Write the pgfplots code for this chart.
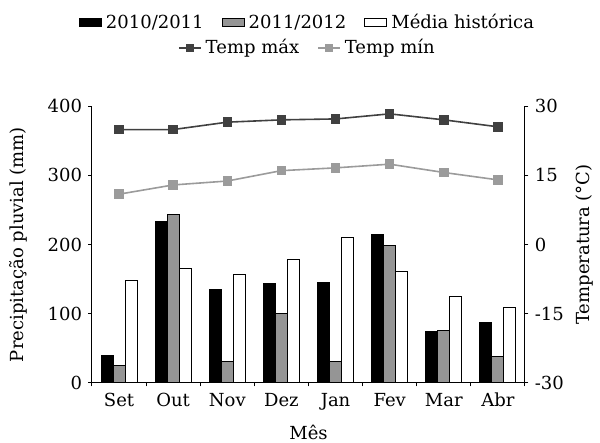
\documentclass[border=0pt]{standalone}
\usepackage{pgfplots}
\pgfplotsset{compat=1.18}
\usepackage{fontspec}
\setmainfont{DejaVu Serif}
\definecolor{bargray}{HTML}{959595}
\definecolor{tmax}{HTML}{404040}
\definecolor{tmin}{HTML}{9B9B9B}
\pgfplotsset{
  barlegend/.style={legend image code/.code={\draw[##1] (0pt,-2pt) rectangle (11pt,2pt);}},
  linelegend/.style={legend image code/.code={\draw[##1, mark size=1.5pt, mark repeat=2, mark phase=2] plot coordinates {(0pt,0pt)(5.5pt,0pt)(11pt,0pt)};}},
}
\begin{document}
\fontsize{9}{11}\selectfont
\begin{tikzpicture}
\begin{axis}[
  at={(0,0)}, anchor=south west,
  scale only axis, width=216.5pt, height=138.5pt,
  xmin=-0.5, xmax=7.5, ymin=0, ymax=400,
  axis x line*=bottom, axis y line*=left,
  axis line style={line width=0.5pt, black},
  tick align=outside, major tick length=1.75pt,
  tick style={black, line width=0.5pt},
  xtick={-0.5,0.5,...,7.5}, xticklabels={},
  extra x ticks={0,1,2,3,4,5,6,7},
  extra x tick labels={Set,Out,Nov,Dez,Jan,Fev,Mar,Abr},
  extra x tick style={tick style={draw=none}},
  ytick={0,100,200,300,400}, yticklabels={0,100,200,300,400},
  ybar=0pt, bar width=6pt,
  xlabel={Mês},
  xlabel style={at={(axis description cs:0.5,-0.18)}, anchor=center},
  ylabel={Precipitação pluvial (mm)},
  ylabel style={at={(axis description cs:-0.171,0.5)}, anchor=center},
  legend style={at={(axis description cs:0.5,1.300)}, anchor=center, draw=none, fill=none,
    legend columns=3, /tikz/every even column/.append style={column sep=7pt},
    inner sep=0pt},
  legend cell align=left,
]
\addplot[fill=black, draw=black, line width=0.5pt, barlegend]
  coordinates {(0,40)(1,233)(2,135)(3,143)(4,145)(5,215)(6,74)(7,87)};
\addlegendentry{2010/2011}
\addplot[fill=bargray, draw=black, line width=0.5pt, barlegend]
  coordinates {(0,25)(1,243)(2,31)(3,100)(4,31)(5,198)(6,76)(7,38)};
\addlegendentry{2011/2012}
\addplot[fill=white, draw=black, line width=0.5pt, barlegend]
  coordinates {(0,148)(1,166)(2,156)(3,179)(4,210)(5,161)(6,125)(7,109)};
\addlegendentry{Média histórica}
\end{axis}
\begin{axis}[
  at={(0,0)}, anchor=south west,
  scale only axis, width=216.5pt, height=138.5pt,
  xmin=-0.5, xmax=7.5, ymin=-30, ymax=30,
  axis y line*=right, axis x line=none,
  axis line style={line width=0.5pt, black},
  tick align=outside, major tick length=1.75pt,
  tick style={black, line width=0.5pt},
  ytick={-30,-15,0,15,30}, yticklabels={-30,-15,0,15,30},
  ylabel={Temperatura (°C)},
  ylabel style={at={(axis description cs:1.1386,0.5)}, anchor=center},
  legend style={at={(axis description cs:0.5,1.210)}, anchor=center, draw=none, fill=none,
    legend columns=2, /tikz/every even column/.append style={column sep=7pt},
    inner sep=0pt},
  legend cell align=left,
]
\addplot[tmax, line width=0.8pt, mark=square*, mark size=2pt,
  mark options={solid, fill=tmax, draw=tmax}, linelegend]
  coordinates {(0,24.9)(1,24.9)(2,26.5)(3,27.0)(4,27.2)(5,28.3)(6,27.0)(7,25.5)};
\addlegendentry{Temp máx}
\addplot[tmin, line width=0.8pt, mark=square*, mark size=2pt,
  mark options={solid, fill=tmin, draw=tmin}, linelegend]
  coordinates {(0,10.9)(1,12.9)(2,13.75)(3,16.0)(4,16.6)(5,17.4)(6,15.6)(7,14.0)};
\addlegendentry{Temp mín}
\end{axis}
\pgfresetboundingbox
\path[use as bounding box] (-46pt,-30pt) rectangle (254pt,191.5pt);
\end{tikzpicture}
\end{document}
